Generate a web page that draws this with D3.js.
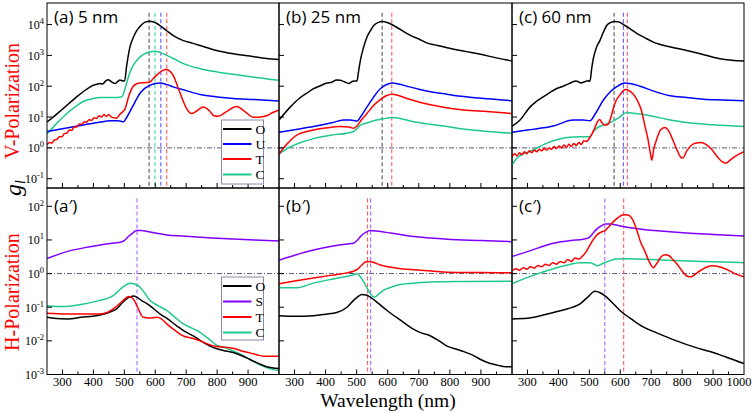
<!DOCTYPE html>
<html><head><meta charset="utf-8">
<script src="https://cdn.jsdelivr.net/npm/d3@7/dist/d3.min.js"></script>
<style>body{margin:0;background:#fff} svg{display:block}
.serif{font-family:"Liberation Serif","Times New Roman",Times,serif}
.sans{font-family:"Open Sans",Lato,sans-serif}
</style>
</head><body><svg id="c" width="756" height="413"></svg>
<script>
// ---------------- DATA (wavelength nm, g value) ----------------
// Top row: V-Polarization
const aO = [[250,7],[270,10],[297,17],[320,27],[346,45],[370,70],[390,95],[400,107],[410,115],[421,123],[430,118],[440,150],[448,163],[458,140],[470,122],[478,140],[486,158],[494,150],[501,148],[507,420],[518,1860],[530,4000],[540,6400],[550,8500],[561,11000],[575,12600],[583,12800],[595,12000],[604,11000],[620,8500],[637,6300],[660,4300],[691,3000],[720,2500],[745,2100],[798,1450],[852,1130],[906,950],[960,790],[1000,740]];
const aU = [[250,3.4],[300,4.2],[367,5.5],[420,6.8],[454,7.6],[480,7.6],[497,7],[507,9.5],[518,15],[534,30],[550,58],[566,85],[583,107],[600,122],[615,127],[635,115],[658,95],[700,72],[745,54],[800,45],[852,40],[920,37],[1000,33]];
const aT = [[250,1.25],[258,1.5],[266,1.45],[274,1.8],[282,1.9],[290,2.3],[298,2.3],[306,2.9],[314,3.0],[322,3.8],[330,3.7],[338,4.8],[346,4.8],[354,6.0],[362,5.8],[370,7.0],[378,6.8],[386,8.2],[394,7.8],[402,9.5],[410,9.0],[418,11],[426,10],[434,12],[442,10.5],[450,12],[458,10],[466,9.5],[475,9.2],[485,12],[495,15],[502,18],[515,50],[529,100],[540,120],[550,127],[565,130],[581,135],[595,185],[604,225],[620,310],[634,350],[645,320],[658,225],[672,100],[685,45],[700,20],[717,13],[735,16],[755,21],[775,16],[790,11],[803,10.6],[830,15],[863,22],[890,15],[917,9.8],[940,10],[960,11],[980,14],[1000,17]];
const aC = [[250,2.8],[280,6],[314,13],[340,21],[367,32],[400,40],[421,43],[464,43],[491,45],[500,70],[507,123],[518,280],[529,480],[545,780],[561,1050],[580,1280],[599,1350],[615,1250],[637,1000],[660,780],[691,540],[745,370],[800,290],[852,245],[920,195],[1000,155]];

const bO = [[250,8],[286,21],[315,40],[340,60],[361,83],[380,100],[404,127],[420,135],[435,160],[447,155],[460,140],[474,123],[488,145],[501,148],[506,300],[512,690],[522,1800],[533,3900],[545,6500],[555,9300],[570,11800],[582,12500],[600,11500],[619,9300],[645,6500],[673,4470],[700,3400],[727,2500],[760,2100],[791,1780],[850,1350],[899,1080],[950,830],[1000,660]];
const bU = [[250,3.2],[300,3.9],[361,4.9],[420,6.5],[458,8],[480,8],[501,7.4],[515,11],[533,21],[555,45],[576,83],[595,112],[614,127],[635,118],[662,100],[700,80],[738,66],[790,55],[845,46],[920,39],[1000,34]];
const bT = [[250,0.63],[275,1.3],[307,2.6],[361,3.8],[400,4.4],[447,4.9],[475,4.8],[490,4.3],[500,5],[515,8],[533,13],[555,24],[576,37],[595,49],[614,55],[635,50],[662,40],[700,31],[738,25],[790,20],[845,17],[920,15],[1000,13]];
const bC = [[250,0.63],[280,1.0],[320,1.5],[361,2.0],[420,2.6],[469,3.0],[490,3.4],[501,4.2],[512,5.5],[535,6.5],[555,7.6],[585,8.7],[614,9.7],[640,9.0],[684,7],[738,5.8],[791,4.9],[850,4.0],[920,3.4],[1000,3]];

const cO = [[250,5],[276,8],[308,21],[330,33],[351,45],[372,62],[393,83],[415,100],[436,123],[447,140],[457,148],[465,138],[473,128],[485,140],[495,150],[502,145],[508,400],[513,800],[523,1800],[534,3000],[545,5500],[556,9300],[570,11800],[583,12600],[597,12000],[610,10000],[630,7500],[653,5200],[680,3700],[707,2700],[760,1900],[815,1450],[870,1050],[922,780],[960,700],[1000,660]];
const cU = [[250,3.2],[300,3.8],[383,5.1],[448,8],[480,8],[502,7.6],[520,13],[545,35],[567,65],[588,95],[605,120],[615,127],[635,120],[664,100],[710,68],[761,49],[815,43],[869,38],[930,36],[1000,34]];
const cT = [[250,0.5],[258,0.65],[266,0.55],[274,0.7],[282,0.6],[290,0.75],[298,0.65],[306,0.8],[314,0.7],[322,0.85],[330,0.75],[338,0.9],[346,0.8],[354,0.95],[362,0.85],[370,1.0],[378,0.9],[386,1.1],[394,0.95],[402,1.15],[410,1.0],[418,1.25],[426,1.05],[434,1.3],[442,1.1],[450,1.4],[458,1.2],[466,1.5],[474,1.3],[482,1.7],[490,1.6],[502,2.2],[510,3.0],[517,4.3],[526,7],[533,8.3],[541,6.5],[549,5.5],[556,5.5],[563,6.3],[570,10],[576,17],[587,35],[598,51],[610,72],[619,78],[630,70],[641,57],[655,35],[668,17],[680,5],[690,1.8],[697,0.7],[702,0.4],[708,0.9],[717,1.8],[730,3.8],[744,4.6],[757,3.5],[770,1.8],[785,0.8],[795,0.5],[802,0.47],[815,0.8],[829,1.2],[845,1.45],[861,1.5],[877,1.3],[893,0.95],[915,0.5],[930,0.35],[941,0.32],[955,0.4],[974,0.55],[1000,0.75]];
const cC = [[250,0.28],[262,0.42],[280,0.6],[308,0.76],[335,1.05],[361,1.4],[400,1.9],[436,2.2],[470,2.3],[502,2.3],[512,3.3],[523,4.3],[545,5.5],[572,7],[598,10],[621,14],[650,13],[685,11.6],[750,8.5],[815,6.6],[900,5.6],[1000,4.9]];

// Bottom row: H-Polarization
const a2O = [[250,0.05],[280,0.046],[314,0.045],[360,0.05],[421,0.059],[450,0.07],[475,0.089],[495,0.14],[507,0.178],[520,0.205],[530,0.214],[540,0.2],[555,0.16],[572,0.13],[595,0.09],[615,0.063],[640,0.045],[669,0.028],[695,0.019],[723,0.014],[755,0.009],[788,0.0063],[820,0.0052],[852,0.0045],[880,0.0036],[906,0.0028],[935,0.0021],[960,0.0017],[1000,0.0015]];
const a2S = [[250,2.8],[314,4.5],[389,6.3],[454,7.9],[486,8.5],[500,9.5],[513,12.6],[527,16],[540,19],[555,19],[572,18],[600,16],[637,14],[690,13],[745,12],[800,11.3],[852,10.7],[920,10],[1000,9.3]];
const a2T = [[250,0.066],[314,0.063],[421,0.063],[445,0.07],[464,0.089],[490,0.14],[502,0.178],[513,0.21],[522,0.2],[532,0.16],[545,0.09],[561,0.05],[580,0.048],[604,0.05],[620,0.045],[637,0.032],[665,0.02],[691,0.014],[720,0.012],[745,0.01],[770,0.008],[798,0.0068],[830,0.0064],[852,0.006],[880,0.005],[906,0.0044],[930,0.0038],[949,0.0035],[1000,0.0035]];
const a2C = [[250,0.11],[280,0.105],[314,0.105],[360,0.12],[421,0.16],[450,0.19],[464,0.22],[480,0.3],[496,0.4],[518,0.52],[535,0.48],[550,0.4],[565,0.27],[583,0.16],[610,0.11],[637,0.08],[664,0.05],[691,0.032],[718,0.024],[745,0.018],[770,0.012],[798,0.0075],[825,0.0063],[852,0.005],[880,0.0038],[906,0.0028],[935,0.002],[960,0.0016],[1000,0.0013]];

const b2O = [[250,0.056],[300,0.054],[361,0.056],[400,0.062],[436,0.07],[469,0.1],[490,0.16],[505,0.21],[517,0.24],[530,0.23],[544,0.2],[570,0.13],[598,0.08],[640,0.042],[684,0.022],[710,0.017],[738,0.014],[765,0.01],[791,0.007],[820,0.0057],[845,0.0048],[870,0.0039],[899,0.0028],[925,0.0022],[953,0.0019],[980,0.0017],[1000,0.0017]];
const b2S = [[250,2.5],[300,3.5],[361,5],[420,6.5],[469,7.6],[490,8],[503,10],[517,14],[530,17],[544,19],[570,18],[609,16],[650,14],[684,12.6],[740,11.4],[791,10.5],[900,9.6],[1000,8.9]];
const b2T = [[250,0.5],[300,0.6],[361,0.74],[420,0.9],[469,1.05],[490,1.17],[505,1.4],[517,1.8],[528,2.2],[538,2.3],[550,2.2],[576,1.8],[620,1.5],[684,1.3],[740,1.2],[791,1.1],[900,1.07],[1000,1.05]];
const b2C = [[250,0.38],[307,0.38],[361,0.52],[420,0.68],[469,0.83],[490,0.92],[501,1.0],[512,0.8],[523,0.56],[535,0.35],[544,0.25],[552,0.21],[558,0.2],[570,0.24],[587,0.32],[610,0.39],[630,0.45],[680,0.52],[738,0.56],[850,0.58],[1000,0.59]];

const c2O = [[250,0.045],[300,0.047],[384,0.07],[430,0.09],[470,0.126],[495,0.2],[518,0.3],[535,0.27],[556,0.2],[580,0.12],[599,0.08],[640,0.042],[674,0.026],[720,0.017],[782,0.01],[840,0.0065],[890,0.0048],[950,0.0031],[1000,0.0021]];
const c2S = [[250,3.2],[300,4.5],[384,8],[440,9.7],[481,10.5],[497,11.5],[510,15],[524,21],[538,26],[551,30],[565,30],[599,26],[650,22],[707,19],[760,17.5],[815,16],[900,14.5],[1000,13]];
const c2T = [[250,1.2],[262,1.4],[274,1.25],[286,1.5],[298,1.35],[310,1.6],[322,1.45],[334,1.75],[346,1.6],[358,1.9],[370,1.75],[382,2.1],[394,1.9],[406,2.3],[418,2.1],[430,2.6],[442,2.3],[454,2.9],[466,2.7],[478,3.3],[490,4.5],[500,6.5],[512,10],[524,14],[538,17],[551,19],[565,26],[578,35],[595,48],[610,56],[625,55],[640,40],[653,20],[665,9],[680,4.5],[693,2.3],[707,1.5],[718,2.0],[730,3.0],[745,3.6],[758,3.4],[770,2.6],[782,2.0],[800,1.2],[815,0.85],[830,0.8],[845,1.0],[863,1.3],[882,1.6],[900,1.7],[920,1.6],[943,1.35],[970,1.0],[1000,0.8]];
const c2C = [[250,0.5],[276,0.63],[320,0.9],[384,1.4],[430,1.8],[470,2.1],[502,2.1],[515,1.9],[526,1.7],[538,1.9],[556,2.2],[588,2.7],[620,2.75],[707,2.6],[800,2.4],[900,2.25],[1000,2.1]];

// vertical marker wavelengths (nm)
const markA = [["O",580],["C",599],["U",618],["T",637]];
const markB = [["O",582],["T",613]];
const markC = [["O",580],["U",610],["T",623]];
const markA2 = [["S",541]];
const markB2 = [["T",535],["S",545]];
const markC2 = [["S",550],["T",611]];

const panelLabels = ["(a) 5 nm","(b) 25 nm","(c) 60 nm","(a\u2032)","(b\u2032)","(c\u2032)"];
const xTickLabels = [300,400,500,600,700,800,900,1000];
const topExps = [-1,0,1,2,3,4];
const botExps = [-3,-2,-1,0,1,2];
const legendTop = ["O","U","T","C"];
const legendBot = ["O","S","T","C"];

// ---------------- STYLE / LAYOUT ----------------
const color = {O:"#000000",U:"#0000ff",T:"#ff0000",C:"#1ec98c",S:"#8000ff"};
const dashColor = {O:"#555555",U:"#5a5aff",T:"#ff5c5c",C:"#3fd6a0",S:"#b066ff"};
const cols = [[47,279],[279,512],[512,744]];
const rows = [
  {y0:3, y1:188, dom:[0.05,5e4], exps:topExps, markTop:2.4e4},
  {y0:188, y1:374.5, dom:[1e-3,350], exps:botExps, markTop:170}
];
const panels = [
  {r:0,c:0,series:[["C",aC],["U",aU],["T",aT],["O",aO]],marks:markA},
  {r:0,c:1,series:[["C",bC],["T",bT],["U",bU],["O",bO]],marks:markB},
  {r:0,c:2,series:[["C",cC],["U",cU],["T",cT],["O",cO]],marks:markC},
  {r:1,c:0,series:[["C",a2C],["S",a2S],["O",a2O],["T",a2T]],marks:markA2},
  {r:1,c:1,series:[["C",b2C],["S",b2S],["T",b2T],["O",b2O]],marks:markB2},
  {r:1,c:2,series:[["C",c2C],["S",c2S],["O",c2O],["T",c2T]],marks:markC2}
];

const svg = d3.select("#c");
const defs = svg.append("defs");

panels.forEach((p,i)=>{
  const row = rows[p.r], col = cols[p.c];
  const x = d3.scaleLinear().domain([250,1000]).range(col);
  const y = d3.scaleLog().domain(row.dom).range([row.y1,row.y0]);
  const g = svg.append("g");
  const cid = "clip"+i;
  defs.append("clipPath").attr("id",cid).append("rect")
    .attr("x",col[0]).attr("y",row.y0).attr("width",col[1]-col[0]).attr("height",row.y1-row.y0);
  const inner = g.append("g").attr("clip-path",`url(#${cid})`);

  inner.append("line").attr("x1",col[0]).attr("x2",col[1]).attr("y1",y(1)).attr("y2",y(1))
    .attr("stroke","#5a5a80").attr("stroke-width",1).attr("stroke-dasharray","5,2,1,2");

  p.marks.forEach(([k,w])=>{
    inner.append("line").attr("x1",x(w)).attr("x2",x(w)).attr("y1",y(row.markTop)).attr("y2",row.y1)
      .attr("stroke",dashColor[k]).attr("stroke-width",1.1).attr("stroke-dasharray","4,2.5");
  });

  const line = d3.line().x(d=>x(d[0])).y(d=>y(d[1])).curve(d3.curveMonotoneX);
  p.series.forEach(([k,data])=>{
    inner.append("path").attr("d",line(data)).attr("fill","none")
      .attr("stroke",color[k]).attr("stroke-width",1.5).attr("stroke-linejoin","round");
  });

  g.append("rect").attr("x",col[0]).attr("y",row.y0).attr("width",col[1]-col[0]).attr("height",row.y1-row.y0)
    .attr("fill","none").attr("stroke","#000").attr("stroke-width",1);

  row.exps.forEach(e=>{
    const yy = y(Math.pow(10,e));
    g.append("line").attr("x1",col[0]).attr("x2",col[0]+5).attr("y1",yy).attr("y2",yy).attr("stroke","#000");
    if(p.c===0){
      const t = g.append("text").attr("class","serif").attr("x",44).attr("y",yy+4.5).attr("text-anchor","end")
        .attr("font-size",12).attr("fill","#000");
      t.append("tspan").text("10");
      t.append("tspan").attr("dy",-5).attr("font-size",8.5).text(String(e));
    }
  });
  d3.range(300,1000,50).forEach(w=>{
    const len = (w%100===0)?5:3;
    g.append("line").attr("x1",x(w)).attr("x2",x(w)).attr("y1",row.y1).attr("y2",row.y1-len).attr("stroke","#000");
  });
  if(p.r===1){
    xTickLabels.filter(w=>w<1000 || p.c===2).forEach(w=>{
      g.append("text").attr("class","serif").attr("x",w===1000? x(w)-5 : x(w)).attr("y",386).attr("text-anchor","middle")
        .attr("font-size",12.5).attr("fill","#000").text(w);
    });
  }
  g.append("text").attr("class","sans").attr("x",col[0]+7).attr("y",p.r===0? 23 : 212)
    .attr("font-size",17).attr("fill","#000").text(panelLabels[i]);
});

function legend(keys, x0, y0, w, h, ys){
  const g = svg.append("g");
  g.append("rect").attr("x",x0).attr("y",y0).attr("width",w).attr("height",h)
    .attr("fill","#fff").attr("stroke","#8a8aa8").attr("stroke-width",1);
  keys.forEach((k,i)=>{
    g.append("line").attr("x1",x0+1.5).attr("x2",x0+30).attr("y1",ys[i]).attr("y2",ys[i])
      .attr("stroke",color[k]).attr("stroke-width",2);
    g.append("text").attr("class","serif").attr("x",x0+34).attr("y",ys[i]+4.5)
      .attr("font-size",13.5).attr("fill","#000").text(k);
  });
}
legend(legendTop, 221.5, 120, 42, 64, [129,144,159,174.5]);
legend(legendBot, 221.5, 277, 42, 63, [286,301.5,317,332.5]);

svg.append("text").attr("class","serif").attr("transform","translate(12,101) rotate(-90)").attr("text-anchor","middle")
  .attr("dominant-baseline","central").attr("font-size",20).attr("fill","#ff0000").text("V-Polarization");
svg.append("text").attr("class","serif").attr("transform","translate(12,292) rotate(-90)").attr("text-anchor","middle")
  .attr("dominant-baseline","central").attr("font-size",20).attr("fill","#ff0000").text("H-Polarization");
const gl = svg.append("text").attr("class","serif").attr("transform","translate(21,188) rotate(-90)").attr("text-anchor","middle")
  .attr("font-style","italic").attr("font-size",24).attr("fill","#000");
gl.append("tspan").text("g");
gl.append("tspan").attr("font-size",14).attr("dy",4).text("l");
svg.append("text").attr("class","serif").attr("x",388).attr("y",407).attr("text-anchor","middle")
  .attr("font-size",19.5).attr("fill","#000").text("Wavelength (nm)");
</script></body></html>
